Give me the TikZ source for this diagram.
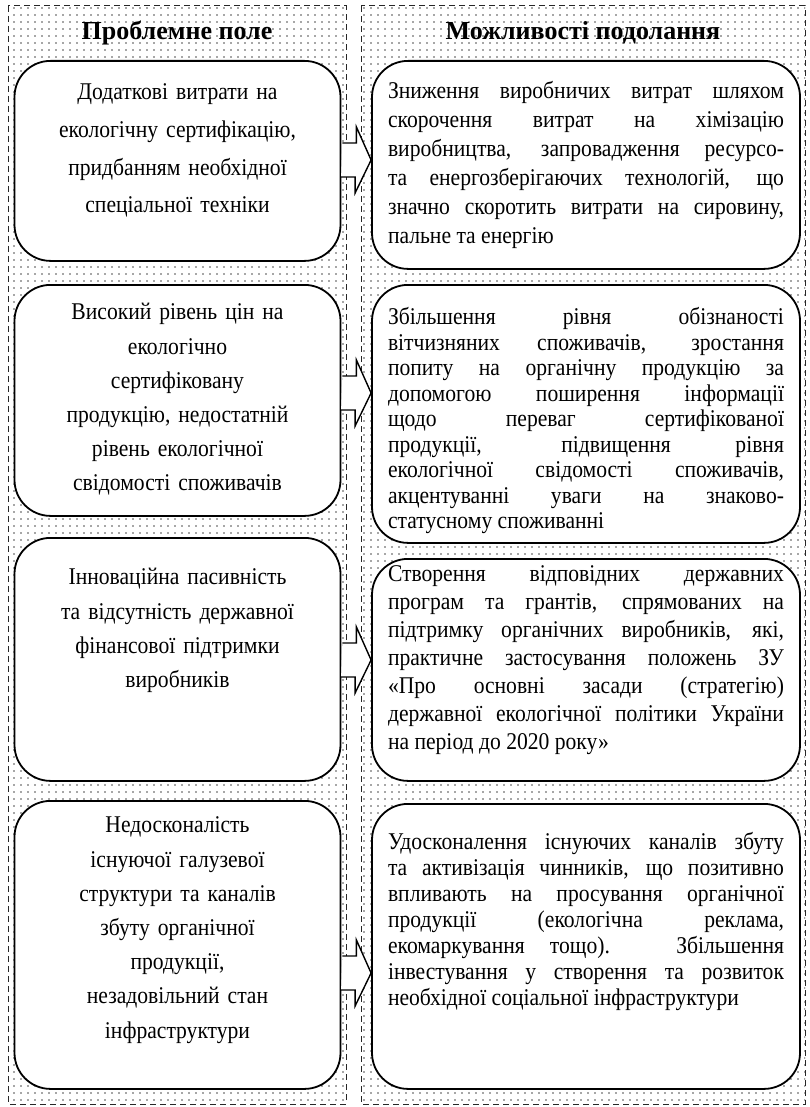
\documentclass[tikz,border=0pt]{standalone}
\usepackage{fontspec}
\setmainfont[FakeStretch=0.9]{Liberation Serif}
\newfontfamily\headfont{Liberation Serif}
\usetikzlibrary{patterns.meta}

\tikzdeclarepattern{
  name=sparsedots,
  type=uncolored,
  bounding box={(-0.5pt,-0.5pt) and (0.5pt,0.5pt)},
  tile size={(3.5pt,3.5pt)},
  code={\fill (0pt,0pt) circle (0.42pt);}
}

\tikzset{
  colbox/.style={draw=black!85, line width=0.5pt, dash pattern=on 3pt off 2pt,
    pattern=sparsedots, pattern color=black!70},
  head/.style={font=\headfont\fontsize{13}{15}\selectfont\bfseries, inner sep=1pt},
  lbox/.style={draw, line width=0.9pt, fill=white, rounded corners=18pt, anchor=north,
    inner xsep=4pt, inner ysep=0pt, text width=155pt, align=center,
    font=\fontsize{12}{17.1}\selectfont},
  rbox/.style={draw, line width=0.9pt, fill=white, rounded corners=18pt, anchor=north,
    inner xsep=8pt, inner ysep=0pt, text width=198pt, align=justify},
  blockarr/.style={draw, line width=0.7pt, fill=white, line join=miter},
}

\begin{document}
\begin{tikzpicture}[x=0.5pt,y=-0.5pt]
  \useasboundingbox (0,0) rectangle (809,1107);

  % two dotted columns
  \draw[colbox] (8,6) rectangle (346,1104);
  \draw[colbox] (361,6) rectangle (805,1104);
  \node[head] (hl) at (177,33) {Проблемне поле};
  \node[head] (hr) at (583,33) {Можливості подолання};

  % problem field
  \node[lbox, font=\fontsize{12}{18.8}\selectfont, text height=19.5pt, text depth=80.5pt] (l1) at (177.5,60)
    {Додаткові витрати на\\екологічну сертифікацію,\\придбанням необхідної\\спеціальної техніки};
  \node[lbox, text height=17.5pt, text depth=98pt] (l2) at (177.5,284)
    {Високий рівень цін на\\екологічно\\сертифіковану\\продукцію, недостатній\\рівень екологічної\\свідомості споживачів};
  \node[lbox, text height=23.5pt, text depth=98pt] (l3) at (177.5,537)
    {Інноваційна пасивність\\та відсутність державної\\фінансової підтримки\\виробників};
  \node[lbox, text height=16pt, text depth=128pt] (l4) at (177.5,800)
    {Недосконалість\\існуючої галузевої\\структури та каналів\\збуту органічної\\продукції,\\незадовільний стан\\інфраструктури};

  % ways to overcome
  \node[rbox, font=\fontsize{12}{14.5}\selectfont, text height=19pt, text depth=85pt] (r1) at (586,60)
    {Зниження виробничих витрат шляхом\linebreak скорочення витрат на хімізацію\linebreak
     виробництва, запровадження ресурсо-\linebreak та енергозберігаючих технологій, що\linebreak
     значно скоротить витрати на сировину,\linebreak пальне та енергію};
  \node[rbox, font=\fontsize{12}{12.75}\selectfont, text height=20pt, text depth=109pt] (r2) at (586,284)
    {Збільшення рівня обізнаності\linebreak вітчизняних споживачів, зростання\linebreak
     попиту на органічну продукцію за\linebreak допомогою поширення інформації\linebreak
     щодо переваг сертифікованої\linebreak продукції, підвищення рівня\linebreak
     екологічної свідомості споживачів,\linebreak акцентуванні уваги на знаково-\linebreak
     статусному споживанні};
  \node[rbox, font=\fontsize{12}{14}\selectfont, text height=11.5pt, text depth=99.5pt] (r3) at (586,558)
    {Створення відповідних державних\linebreak програм та грантів, спрямованих на\linebreak
     підтримку органічних виробників, які,\linebreak практичне застосування положень ЗУ\linebreak
     «Про основні засади (стратегію)\linebreak державної екологічної політики України\linebreak
     на період до 2020 року»};
  \node[rbox, font=\fontsize{12}{13}\selectfont, text height=23pt, text depth=119.5pt] (r4) at (586,803)
    {Удосконалення існуючих каналів збуту\linebreak та активізація чинників, що позитивно\linebreak
     впливають на просування органічної\linebreak продукції (екологічна реклама,\linebreak
     екомаркування тощо). Збільшення\linebreak інвестування у створення та розвиток\linebreak
     необхідної соціальної інфраструктури};

  % block arrows
  \foreach \a/\b/\y in {l1/r1/160, l2/r2/393, l3/r3/660, l4/r4/973}
    \draw[blockarr] (\a.east |- 0,\y) ++(1,-17) -- ++(14,0) -- ++(0,-16)
      -- (\b.west |- 0,\y) -- ++(-16,33) -- ++(0,-16) -- ++(-14,0);
\end{tikzpicture}
\end{document}
